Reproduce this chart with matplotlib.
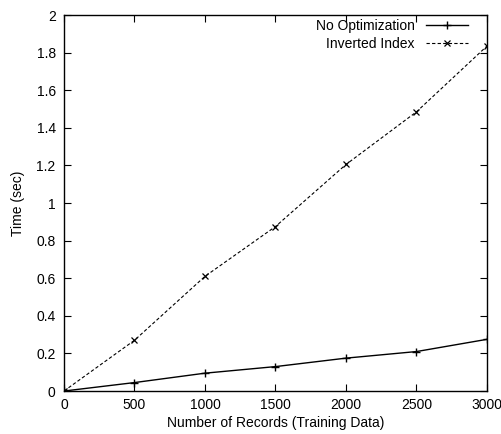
import matplotlib
matplotlib.use("Agg")
import matplotlib.pyplot as plt

plt.rcParams['font.family'] = ['Liberation Sans', 'DejaVu Sans']
plt.rcParams['font.size'] = 10

records = [0, 500, 1000, 1500, 2000, 2500, 3000]
no_opt = [0, 0.045, 0.095, 0.13, 0.175, 0.21, 0.275]
inverted = [0, 0.27, 0.61, 0.875, 1.205, 1.485, 1.835]

fig = plt.figure(figsize=(5.01, 4.34), dpi=100)
ax = fig.add_axes([0.1277, 0.099, 0.8443, 0.8664])

ax.plot(records, no_opt, color='black', lw=1, marker='+', ms=6, mew=1,
        label='No Optimization')
ax.plot(records, inverted, color='black', lw=0.8, ls=(0, (3, 2)), marker='x',
        ms=5, mew=0.9, label='Inverted Index')

ax.set_xlim(0, 3000)
ax.set_ylim(0, 2)
ax.set_xticks(records)
ax.set_yticks([0, 0.2, 0.4, 0.6, 0.8, 1, 1.2, 1.4, 1.6, 1.8, 2])
ax.set_yticklabels(['0', '0.2', '0.4', '0.6', '0.8', '1', '1.2', '1.4', '1.6', '1.8', '2'])
ax.tick_params(direction='in', top=True, right=True, length=5, width=0.8)
ax.tick_params(axis='x', pad=5)
ax.tick_params(axis='y', pad=6)
for s in ax.spines.values():
    s.set_linewidth(1)

ax.set_xlabel('Number of Records (Training Data)', labelpad=3)
ax.set_ylabel('Time (sec)', labelpad=8)

ax.legend(loc='upper right', frameon=False, markerfirst=False, handlelength=3.0,
          borderaxespad=0.2, labelspacing=0.3, handletextpad=0.8,
          bbox_to_anchor=(0.974, 1.012))

fig.savefig('out.png', dpi=100)
